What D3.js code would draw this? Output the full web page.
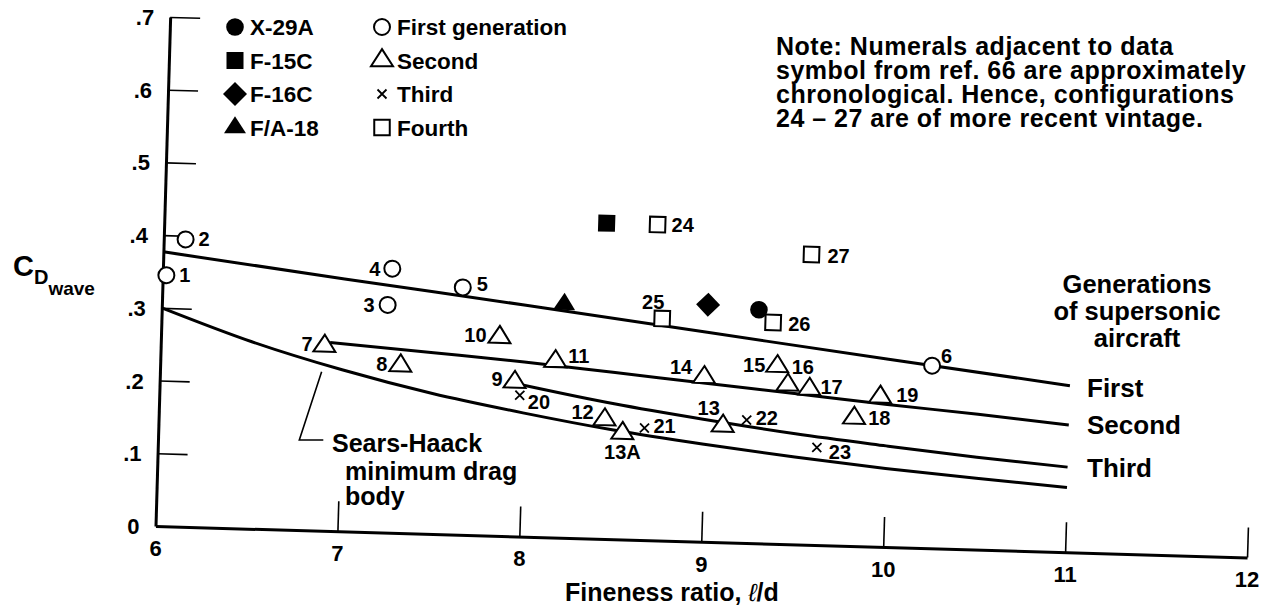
<!DOCTYPE html>
<html>
<head>
<meta charset="utf-8">
<script src="https://cdn.jsdelivr.net/npm/d3@7"></script>
<style>
  body { margin: 0; background: #fff; }
  svg { display: block; }
  text { font-family: "Liberation Sans", Arial, Helvetica, sans-serif; font-weight: bold; fill: #000; }
</style>
</head>
<body>
<svg id="chart" width="1287" height="609"></svg>
<script>
// ---- Generation trend curves: fineness ratio vs wave drag coefficient ----
const firstCurveX  = [6, 7, 8, 9, 10, 11];
const firstCurveY  = [0.377, 0.347, 0.318, 0.288, 0.258, 0.229];
const secondCurveX = [6.93, 7.5, 8, 8.5, 9, 9.5, 10, 10.5, 11];
const secondCurveY = [0.259, 0.249, 0.240, 0.229, 0.218, 0.207, 0.196, 0.186, 0.175];
const thirdCurveX  = [8, 8.5, 9, 9.5, 10, 10.5, 11];
const thirdCurveY  = [0.208, 0.186, 0.168, 0.152, 0.139, 0.127, 0.117];
const searsHaackX  = [6, 6.5, 7, 7.5, 8, 8.5, 9, 9.5, 10, 10.5, 11];
const searsHaackY  = [0.300, 0.257, 0.222, 0.193, 0.170, 0.150, 0.134, 0.120, 0.108, 0.098, 0.089];

// ---- Configurations from ref. 66, by generation ----
const firstGenLabels  = ["1", "2", "3", "4", "5", "6"];
const firstGenX       = [6.02, 6.12, 7.24, 7.26, 7.65, 10.24];
const firstGenY       = [0.345, 0.395, 0.313, 0.363, 0.340, 0.251];

const secondGenLabels = ["7", "8", "9", "10", "11", "12", "13", "13A", "14", "15", "16", "17", "18", "19"];
const secondGenX      = [6.90, 7.32, 7.95, 7.86, 8.17, 8.45, 9.10, 8.55, 8.99, 9.39, 9.45, 9.57, 9.82, 9.96];
const secondGenY      = [0.254, 0.230, 0.212, 0.273, 0.242, 0.164, 0.160, 0.146, 0.226, 0.244, 0.219, 0.214, 0.176, 0.206];

const thirdGenLabels  = ["20", "21", "22", "23"];
const thirdGenX       = [7.98, 8.67, 9.23, 9.62];
const thirdGenY       = [0.194, 0.154, 0.169, 0.134];

const fourthGenLabels = ["24", "25", "26", "27"];
const fourthGenX      = [8.71, 8.75, 9.36, 9.56];
const fourthGenY      = [0.434, 0.305, 0.304, 0.399];

// ---- Specific aircraft ----
const aircraftNames = ["X-29A", "F-15C", "F-16C", "F/A-18"];
const aircraftX     = [9.28, 8.43, 9.00, 8.21];
const aircraftY     = [0.321, 0.434, 0.326, 0.321];

// ---- Axis ticks and text ----
const xTickValues = [6, 7, 8, 9, 10, 11, 12];
const xTickLabels = ["6", "7", "8", "9", "10", "11", "12"];
const yTickValues = [0, 0.1, 0.2, 0.3, 0.4, 0.5, 0.6, 0.7];
const yTickLabels = ["0", ".1", ".2", ".3", ".4", ".5", ".6", ".7"];
const generationNames = ["First generation", "Second", "Third", "Fourth"];
const curveNames = ["First", "Second", "Third"];
const noteLines = [
  "Note: Numerals adjacent to data",
  "symbol from ref. 66 are approximately",
  "chronological. Hence, configurations",
  "24 \u2013 27 are of more recent vintage."
];
const generationsTitle = ["Generations", "of supersonic", "aircraft"];
const searsHaackText = ["Sears-Haack", "minimum drag", "body"];

// ---- Layout ----
const svg = d3.select("#chart");
const tilt = 1.65;                 // the plot frame sits slightly rotated on the page
const origin = [155.5, 526];
const rad = tilt * Math.PI / 180, cs = Math.cos(rad), sn = Math.sin(rad);

const x = d3.scaleLinear().domain([6, 12]).range([0, 1092]);
const y = d3.scaleLinear().domain([0, 0.7]).range([0, -509.25]);

// page position of a data point (for upright text placed next to the tilted frame)
function project(xv, yv) {
  const lx = x(xv), ly = y(yv);
  return [origin[0] + lx * cs - ly * sn, origin[1] + lx * sn + ly * cs];
}

const plot = svg.append("g").attr("transform", `translate(${origin[0]},${origin[1]}) rotate(${tilt})`);

// axes with inward ticks
const xAxis = d3.axisBottom(x).tickValues(xTickValues.slice(1)).tickSizeInner(-30).tickSizeOuter(0).tickFormat("");
const yAxis = d3.axisLeft(y).tickValues(yTickValues.slice(1)).tickSizeInner(-30).tickSizeOuter(0).tickFormat("");
const gx = plot.append("g").call(xAxis);
const gy = plot.append("g").call(yAxis);
[gx, gy].forEach(g => {
  g.select(".domain").attr("stroke", "#000").attr("stroke-width", 3);
  g.selectAll(".tick line").attr("stroke", "#000").attr("stroke-width", 1.6);
});

// tick labels (upright)
xTickValues.forEach((v, i) => {
  const p = project(v, 0);
  svg.append("text").attr("x", p[0]).attr("y", p[1] + 30)
    .attr("text-anchor", "middle").attr("font-size", 22).text(xTickLabels[i]);
});
yTickValues.forEach((v, i) => {
  const p = project(6, v);
  svg.append("text").attr("x", p[0] - 16).attr("y", p[1] + 8)
    .attr("text-anchor", "end").attr("font-size", 22).text(yTickLabels[i]);
});

// curves
const line = d3.line().x(d => x(d[0])).y(d => y(d[1])).curve(d3.curveMonotoneX);
[[firstCurveX, firstCurveY], [secondCurveX, secondCurveY], [thirdCurveX, thirdCurveY], [searsHaackX, searsHaackY]]
  .forEach(([xs, ys]) => {
    plot.append("path").datum(xs.map((v, i) => [v, ys[i]]))
      .attr("d", line).attr("fill", "none").attr("stroke", "#000").attr("stroke-width", 3);
  });

// marker shapes
function addMarker(g, kind, filled) {
  const fill = filled ? "#000" : "#fff";
  const sw = filled ? 0 : 2;
  if (kind === "circle") {
    g.append("circle").attr("r", filled ? 8.8 : 8).attr("fill", fill).attr("stroke", "#000").attr("stroke-width", sw);
  } else if (kind === "square") {
    const s = filled ? 17 : 15.5;
    g.append("rect").attr("x", -s / 2).attr("y", -s / 2).attr("width", s).attr("height", s)
      .attr("fill", fill).attr("stroke", "#000").attr("stroke-width", sw);
  } else if (kind === "diamond") {
    const r = 12;
    g.append("path").attr("d", `M0,${-r}L${r},0L0,${r}L${-r},0Z`).attr("fill", fill);
  } else if (kind === "triangle") {
    const w = 22, h = 17;
    g.append("path").attr("d", `M0,${-2 * h / 3}L${w / 2},${h / 3}L${-w / 2},${h / 3}Z`)
      .attr("fill", fill).attr("stroke", "#000").attr("stroke-width", sw).attr("stroke-linejoin", "miter");
  } else if (kind === "cross") {
    const r = 4.5;
    g.append("path").attr("d", `M${-r},${-r}L${r},${r}M${-r},${r}L${r},${-r}`)
      .attr("stroke", "#000").attr("stroke-width", 1.8).attr("fill", "none");
  }
}

// numeral placement next to each symbol: [dx, dy, anchor]
const labelOffset = {
  "1": [13, 0, "start"], "2": [13, 0, "start"], "3": [-13, 0, "end"], "4": [-12, 0, "end"],
  "5": [14, -3, "start"], "6": [9, -10, "start"],
  "7": [-12, -2, "end"], "8": [-13, -2, "end"], "9": [-12, -3, "end"], "10": [-13, -2, "end"],
  "11": [13, -5, "start"], "12": [-11, -8, "end"], "13": [-3, -18, "end"], "13A": [0, 19, "middle"],
  "14": [-12, -10, "end"], "15": [-12, -1, "end"], "16": [4, -18, "start"], "17": [11, -2, "start"],
  "18": [14, 0, "start"], "19": [16, -2, "start"],
  "20": [8, 7, "start"], "21": [9, -2, "start"], "22": [9, -2, "start"], "23": [12, 4, "start"],
  "24": [14, 0, "start"], "25": [-9, -17, "middle"], "26": [15, 1, "start"], "27": [16, 1, "start"]
};

const groups = [
  [firstGenLabels, firstGenX, firstGenY, "circle"],
  [secondGenLabels, secondGenX, secondGenY, "triangle"],
  [thirdGenLabels, thirdGenX, thirdGenY, "cross"],
  [fourthGenLabels, fourthGenX, fourthGenY, "square"]
];
groups.forEach(([labels, xs, ys, kind]) => {
  labels.forEach((lab, i) => {
    const g = plot.append("g").attr("transform", `translate(${x(xs[i])},${y(ys[i])})`);
    addMarker(g, kind, false);
    const p = project(xs[i], ys[i]);
    const o = labelOffset[lab];
    svg.append("text").attr("x", p[0] + o[0]).attr("y", p[1] + o[1] + 7)
      .attr("text-anchor", o[2]).attr("font-size", 20).text(lab);
  });
});

const aircraftShapes = ["circle", "square", "diamond", "triangle"];
aircraftNames.forEach((n, i) => {
  const g = plot.append("g").attr("transform", `translate(${x(aircraftX[i])},${y(aircraftY[i])})`);
  addMarker(g, aircraftShapes[i], true);
});

// legend
const legendRowY = [27, 60.5, 94, 127.5];
const generationShapes = ["circle", "triangle", "cross", "square"];
aircraftNames.forEach((n, i) => {
  addMarker(svg.append("g").attr("transform", `translate(235,${legendRowY[i]})`), aircraftShapes[i], true);
  svg.append("text").attr("x", 250).attr("y", legendRowY[i] + 8).attr("font-size", 22.5).text(n);
});
generationNames.forEach((n, i) => {
  addMarker(svg.append("g").attr("transform", `translate(382,${legendRowY[i]})`), generationShapes[i], false);
  svg.append("text").attr("x", 397).attr("y", legendRowY[i] + 8).attr("font-size", 22.5).text(n);
});

// note
noteLines.forEach((t, i) => {
  svg.append("text").attr("x", 776).attr("y", 55 + i * 24).attr("font-size", 25)
    .attr("letter-spacing", 0.5).text(t);
});

// generation captions
generationsTitle.forEach((t, i) => {
  svg.append("text").attr("x", 1137).attr("y", 293 + i * 27).attr("text-anchor", "middle")
    .attr("font-size", 25.5).text(t);
});
const curveLabelY = [397, 434, 477];
curveNames.forEach((t, i) => {
  svg.append("text").attr("x", 1087).attr("y", curveLabelY[i]).attr("font-size", 26).text(t);
});

// Sears-Haack leader and caption
const lead = project(6.888, 0.2186);
svg.append("path").attr("d", `M${lead[0]},${lead[1]}L299.3,440L323.3,440`)
  .attr("fill", "none").attr("stroke", "#000").attr("stroke-width", 1.6);
searsHaackText.forEach((t, i) => {
  svg.append("text").attr("x", i === 0 ? 332 : 345).attr("y", [452, 480, 505][i]).attr("font-size", 25).text(t);
});

// axis titles
const xTitle = svg.append("text").attr("x", 565).attr("y", 601).attr("font-size", 25);
xTitle.append("tspan").text("Fineness ratio, ");
xTitle.append("tspan").attr("font-style", "italic").attr("font-weight", "normal").text("\u2113");
xTitle.append("tspan").text("/d");

const yTitle = svg.append("text").attr("x", 13).attr("y", 276);
yTitle.append("tspan").attr("font-size", 29).text("C");
yTitle.append("tspan").attr("font-size", 20).attr("dy", 8).text("D");
yTitle.append("tspan").attr("font-size", 19).attr("dy", 11).text("wave");
</script>
</body>
</html>
